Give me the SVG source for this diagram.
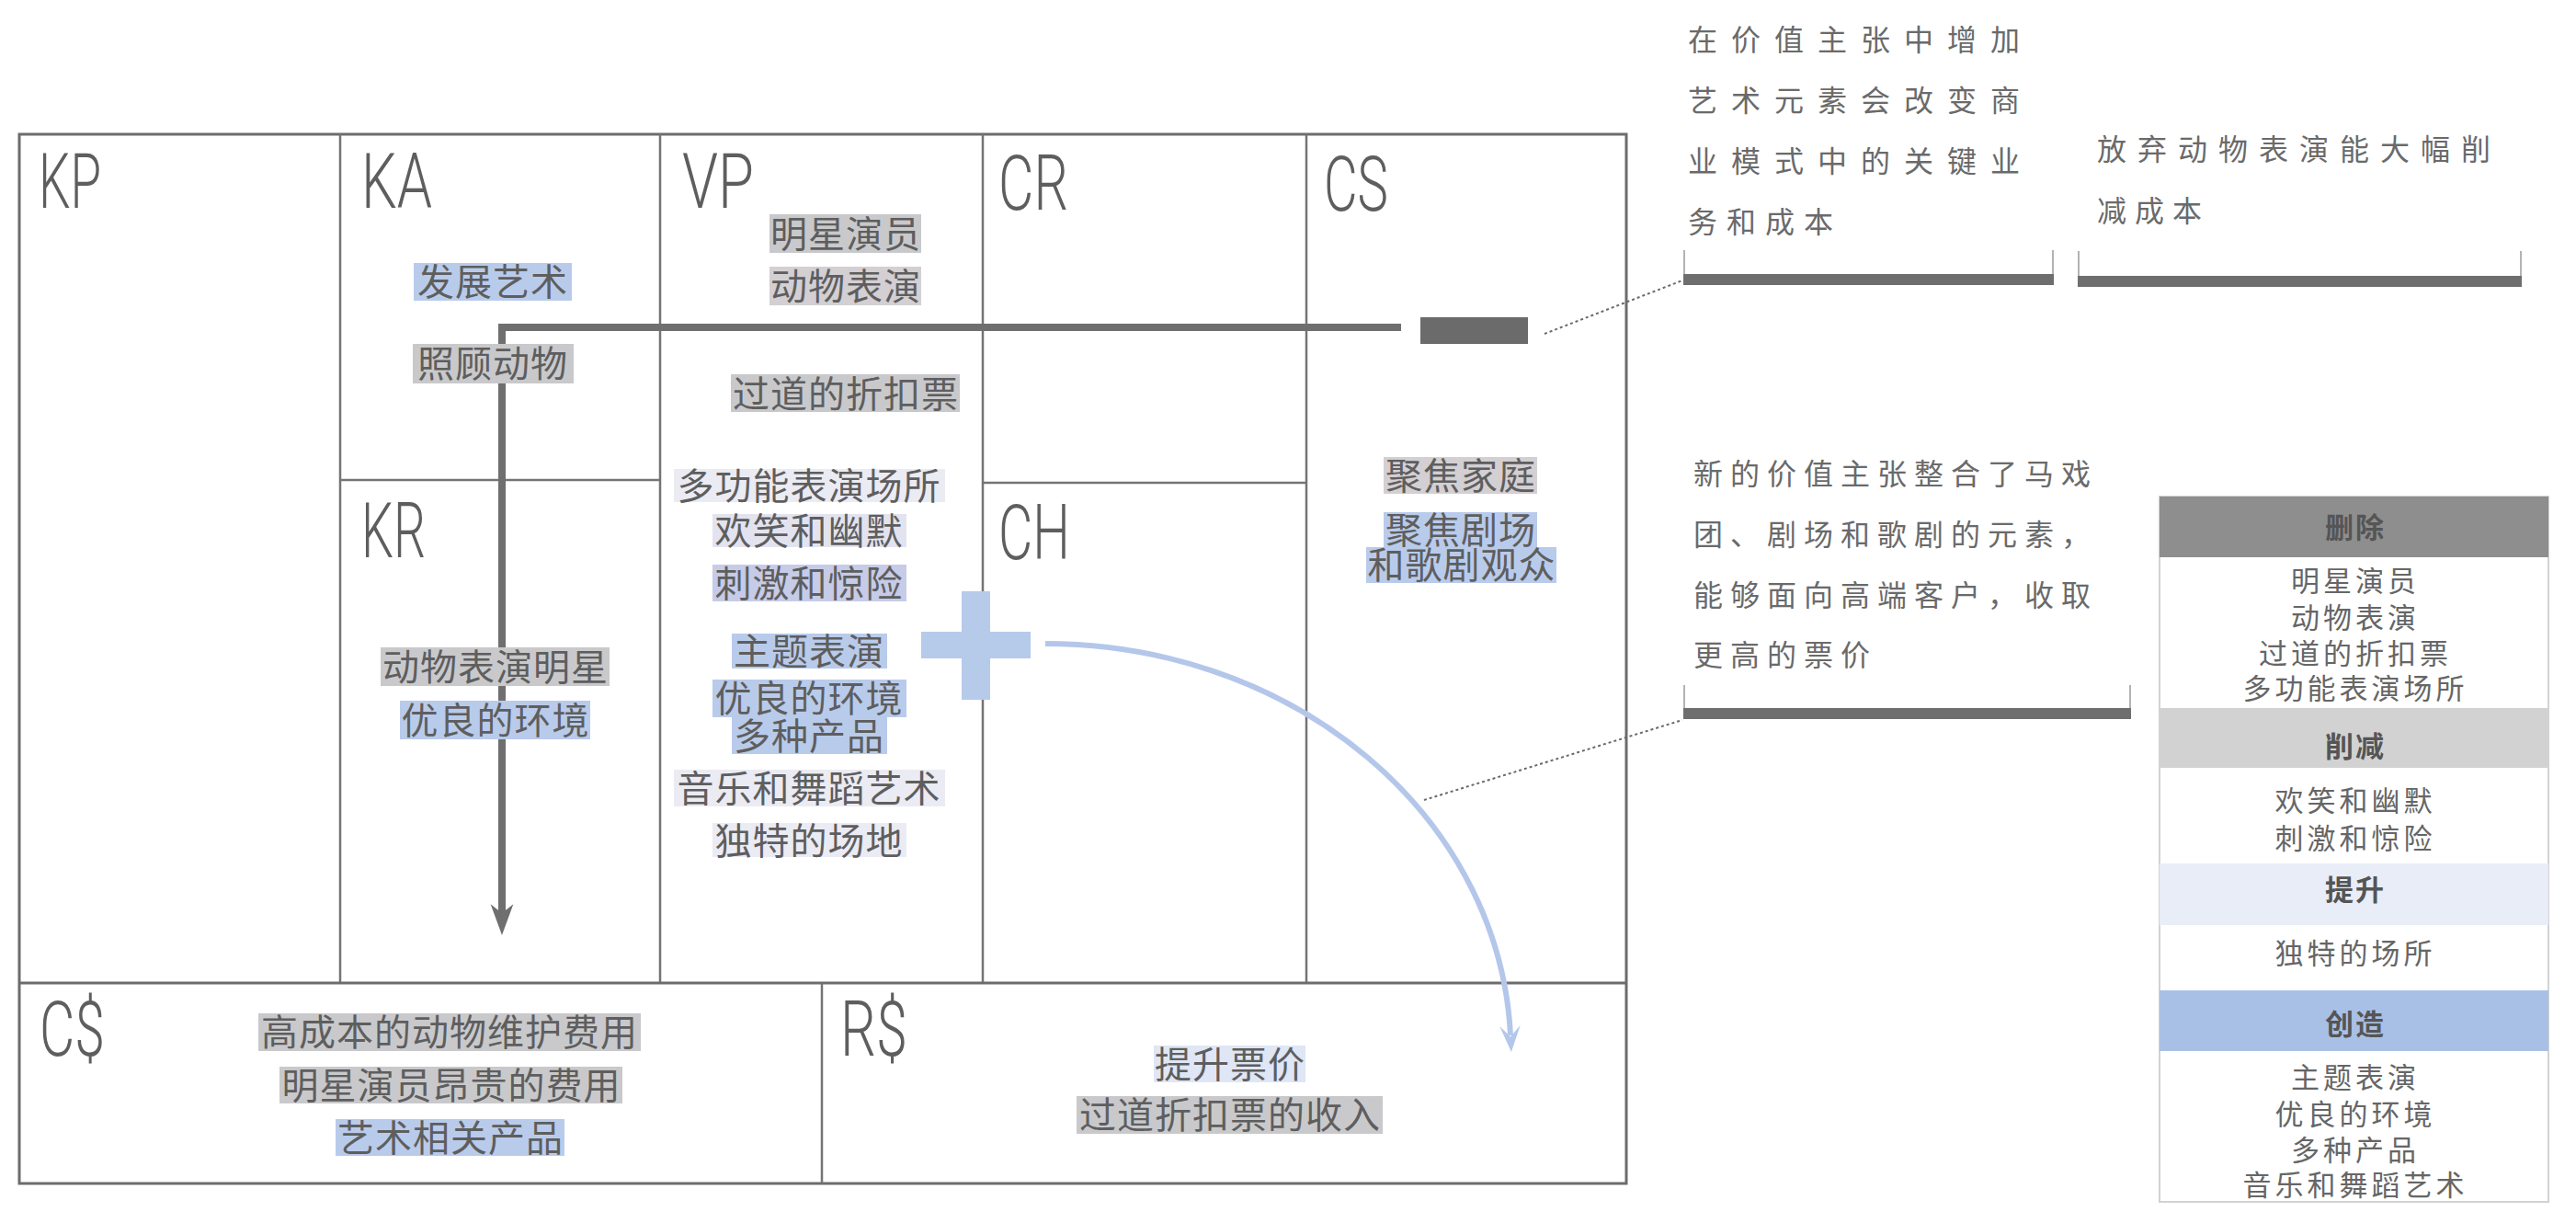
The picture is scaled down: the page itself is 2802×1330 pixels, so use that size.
<svg xmlns="http://www.w3.org/2000/svg" width="2802" height="1330" viewBox="0 0 2802 1330">
<style>
.grid{fill:none;stroke:#747474;stroke-width:2.5}
.outer{fill:none;stroke:#6c6c6c;stroke-width:3}
.lbl{font-family:Roboto,"DejaVu Sans","Liberation Sans",sans-serif;font-weight:300;font-size:84px;fill:#5e5e5e}
.t{font-family:"Noto Sans CJK SC","Noto Sans",sans-serif;font-size:40px;fill:#5e5e5e;text-anchor:middle;letter-spacing:1px}
.hg{fill:#c9c9cc}.hb{fill:#b9cbeb}.hl{fill:#ebebf4}.hl2{fill:#e3e3f0}.hbl{fill:#c6cbe8}.hp{fill:#d3cfd2}.hlb{fill:#dfe6f5}
.note{font-family:"Noto Sans CJK SC","Noto Sans",sans-serif;font-size:32px;fill:#6a6a6a}
.bar{fill:#6e6e6e}
.tick{stroke:#9a9a9a;stroke-width:1.5}
.dot{fill:none;stroke:#6a6a6a;stroke-width:2;stroke-dasharray:3 3}
.lh{font-family:"Noto Sans CJK SC","Noto Sans",sans-serif;font-size:31px;font-weight:700;fill:#555;text-anchor:middle;letter-spacing:2px}
.li{font-family:"Noto Sans CJK SC","Noto Sans",sans-serif;font-size:31px;fill:#666;text-anchor:middle;letter-spacing:4px}
</style>
<defs>
<marker id="ahGray" markerUnits="userSpaceOnUse" markerWidth="60" markerHeight="40" viewBox="-50 -20 80 40" refX="-32" refY="0" orient="auto">
<path d="M0,0 L-45,-16.5 L-32,0 L-45,16.5 Z" fill="#6f6f6f"/>
</marker>
<marker id="ahBlue" markerUnits="userSpaceOnUse" markerWidth="60" markerHeight="40" viewBox="-50 -20 80 40" refX="-24" refY="0" orient="auto">
<path d="M0,0 L-38,-15 L-22,0 L-38,15 Z" fill="#b4c7ea"/>
</marker>
</defs>
<rect width="2802" height="1330" fill="#ffffff"/>

<g id="canvas-grid">
<rect class="outer" x="21" y="146" width="1748" height="1141"/>
<line class="grid" x1="370" y1="146" x2="370" y2="1069"/>
<line class="grid" x1="718" y1="146" x2="718" y2="1069"/>
<line class="grid" x1="1069" y1="146" x2="1069" y2="1069"/>
<line class="grid" x1="1421" y1="146" x2="1421" y2="1069"/>
<line class="grid" x1="370" y1="522" x2="718" y2="522"/>
<line class="grid" x1="1069" y1="525" x2="1421" y2="525"/>
<line class="outer" x1="21" y1="1069" x2="1769" y2="1069"/>
<line class="grid" x1="894" y1="1069" x2="894" y2="1287"/>
</g>

<g id="connectors">
<path d="M1524,356 H546 V993" fill="none" stroke="#6f6f6f" stroke-width="8" marker-end="url(#ahGray)"/>
<path d="M1137,700 A506,445 0 0 1 1643,1126" fill="none" stroke="#b4c7ea" stroke-width="6" marker-end="url(#ahBlue)"/>
<path class="dot" d="M1680,363 L1830,305"/>
<path class="dot" d="M1549,870 L1830,783"/>
</g>

<g id="node-KP"><text class="lbl" x="42" y="226" textLength="68" lengthAdjust="spacingAndGlyphs">KP</text></g>
<g id="node-KA"><text class="lbl" x="393" y="226" textLength="77" lengthAdjust="spacingAndGlyphs">KA</text>
<rect class="hb" x="450" y="286" width="172" height="41"/><text class="t" x="536" y="321">发展艺术</text>
<rect class="hg" x="449" y="374" width="175" height="43"/><text class="t" x="536" y="410">照顾动物</text>
</g>
<g id="node-VP"><text class="lbl" x="742" y="226" textLength="78" lengthAdjust="spacingAndGlyphs">VP</text>
<rect class="hg" x="837" y="233" width="165" height="42"/><text class="t" x="920" y="269">明星演员</text>
<rect class="hp" x="837" y="290" width="165" height="42"/><text class="t" x="920" y="326">动物表演</text>
<rect class="hg" x="795" y="407" width="249" height="41"/><text class="t" x="920" y="443">过道的折扣票</text>
<rect class="hl" x="733" y="510" width="295" height="36"/><text class="t" x="880" y="543">多功能表演场所</text>
<rect class="hl2" x="775" y="559" width="211" height="36"/><text class="t" x="880" y="592">欢笑和幽默</text>
<rect class="hbl" x="775" y="614" width="211" height="40"/><text class="t" x="880" y="649">刺激和惊险</text>
<rect class="hb" x="796" y="689" width="169" height="38"/><text class="t" x="880" y="723">主题表演</text>
<rect class="hb" x="775" y="739" width="211" height="41"/><text class="t" x="880" y="774">优良的环境</text>
<rect class="hb" x="796" y="780" width="169" height="40"/><text class="t" x="880" y="815">多种产品</text>
<rect class="hl" x="733" y="837" width="295" height="40"/><text class="t" x="880" y="872">音乐和舞蹈艺术</text>
<rect class="hl" x="775" y="895" width="211" height="37"/><text class="t" x="880" y="929">独特的场地</text>
</g>
<g id="node-CR"><text class="lbl" x="1086" y="228" textLength="76" lengthAdjust="spacingAndGlyphs">CR</text></g>
<g id="node-CS"><text class="lbl" x="1440" y="229" textLength="70" lengthAdjust="spacingAndGlyphs">CS</text>
<rect class="hp" x="1505" y="497" width="167" height="40"/><text class="t" x="1589" y="532">聚焦家庭</text>
<rect class="hb" x="1505" y="557" width="167" height="38"/><text class="t" x="1589" y="591">聚焦剧场</text>
<rect class="hb" x="1486" y="595" width="207" height="39"/><text class="t" x="1590" y="629">和歌剧观众</text>
</g>
<g id="node-KR"><text class="lbl" x="393" y="606" textLength="70" lengthAdjust="spacingAndGlyphs">KR</text>
<rect class="hg" x="414" y="704" width="249" height="42"/><text class="t" x="539" y="740">动物表演明星</text>
<rect class="hb" x="435" y="762" width="207" height="42"/><text class="t" x="539" y="798">优良的环境</text>
</g>
<g id="node-CH"><text class="lbl" x="1086" y="608" textLength="78" lengthAdjust="spacingAndGlyphs">CH</text></g>
<g id="node-Cost"><text class="lbl" x="43" y="1148" textLength="71" lengthAdjust="spacingAndGlyphs">C$</text>
<rect class="hg" x="281" y="1102" width="416" height="41"/><text class="t" x="489" y="1137">高成本的动物维护费用</text>
<rect class="hg" x="304" y="1160" width="373" height="40"/><text class="t" x="491" y="1195">明星演员昂贵的费用</text>
<rect class="hb" x="365" y="1217" width="249" height="40"/><text class="t" x="490" y="1252">艺术相关产品</text>
</g>
<g id="node-Revenue"><text class="lbl" x="914" y="1148" textLength="73" lengthAdjust="spacingAndGlyphs">R$</text>
<rect class="hlb" x="1255" y="1137" width="165" height="40"/><text class="t" x="1338" y="1172">提升票价</text>
<rect class="hg" x="1171" y="1192" width="333" height="41"/><text class="t" x="1338" y="1227">过道折扣票的收入</text>
</g>

<g id="node-minus"><rect x="1545" y="345" width="117" height="29" fill="#6b6b6b"/></g>
<g id="node-plus" fill="#b6cae9">
<rect x="1046" y="643" width="31" height="118"/>
<rect x="1002" y="687" width="119" height="29"/>
</g>

<g id="node-note1">
<text class="note" x="1836" y="55" letter-spacing="15">在价值主张中增加</text>
<text class="note" x="1836" y="121" letter-spacing="15">艺术元素会改变商</text>
<text class="note" x="1836" y="187" letter-spacing="15">业模式中的关键业</text>
<text class="note" x="1836" y="253" letter-spacing="10">务和成本</text>
<line class="tick" x1="1832" y1="272" x2="1832" y2="300"/>
<line class="tick" x1="2233" y1="272" x2="2233" y2="300"/>
<rect class="bar" x="1831" y="298" width="403" height="12"/>
</g>
<g id="node-note2">
<text class="note" x="2281" y="174" letter-spacing="12">放弃动物表演能大幅削</text>
<text class="note" x="2281" y="241" letter-spacing="9">减成本</text>
<line class="tick" x1="2261" y1="273" x2="2261" y2="302"/>
<line class="tick" x1="2742" y1="273" x2="2742" y2="302"/>
<rect class="bar" x="2260" y="300" width="483" height="12"/>
</g>
<g id="node-note3">
<text class="note" x="1842" y="527" font-size="34" letter-spacing="8">新的价值主张整合了马戏</text>
<text class="note" x="1842" y="593" font-size="34" letter-spacing="8">团、剧场和歌剧的元素，</text>
<text class="note" x="1842" y="659" font-size="34" letter-spacing="8">能够面向高端客户，收取</text>
<text class="note" x="1842" y="724" font-size="34" letter-spacing="8">更高的票价</text>
<line class="tick" x1="1832" y1="745" x2="1832" y2="772"/>
<line class="tick" x1="2317" y1="745" x2="2317" y2="772"/>
<rect class="bar" x="1831" y="770" width="487" height="12"/>
</g>

<g id="node-legend">
<rect x="2349" y="540" width="423" height="767" fill="#ffffff" stroke="#d2d2d2" stroke-width="2"/>
<rect x="2349" y="540" width="423" height="66" fill="#8e8e8e"/>
<rect x="2349" y="770" width="423" height="65" fill="#d2d2d2"/>
<rect x="2349" y="939" width="423" height="67" fill="#e8edf8"/>
<rect x="2349" y="1077" width="423" height="66" fill="#a9c0e6"/>
<text class="lh" x="2562" y="585">删除</text>
<text class="li" x="2562" y="643">明星演员</text>
<text class="li" x="2562" y="683">动物表演</text>
<text class="li" x="2562" y="722">过道的折扣票</text>
<text class="li" x="2562" y="760">多功能表演场所</text>
<text class="lh" x="2562" y="823">削减</text>
<text class="li" x="2562" y="882">欢笑和幽默</text>
<text class="li" x="2562" y="923">刺激和惊险</text>
<text class="lh" x="2562" y="979">提升</text>
<text class="li" x="2562" y="1048">独特的场所</text>
<text class="lh" x="2562" y="1125">创造</text>
<text class="li" x="2562" y="1183">主题表演</text>
<text class="li" x="2562" y="1223">优良的环境</text>
<text class="li" x="2562" y="1262">多种产品</text>
<text class="li" x="2562" y="1300">音乐和舞蹈艺术</text>
</g>
</svg>
